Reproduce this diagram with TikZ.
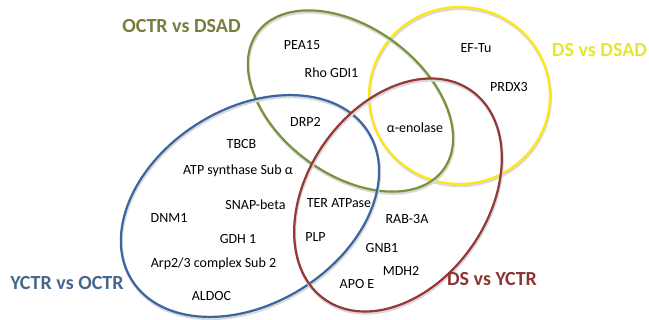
\documentclass[tikz,border=0pt]{standalone}
\usepackage{fontspec}
\setmainfont{Carlito}
\usepackage{tikz}
\usetikzlibrary{shapes.geometric}
\definecolor{octrgreen}{HTML}{77933C}
\definecolor{dsyellow}{HTML}{FFE812}
\definecolor{yctrblue}{HTML}{3C64A0}
\definecolor{dsred}{HTML}{953735}
\definecolor{octrtext}{HTML}{787C3C}
\definecolor{dstext}{HTML}{E6E630}
\definecolor{yctrtext}{HTML}{46688E}
\definecolor{redtext}{HTML}{8E3634}
\tikzset{
  setring/.style={ellipse, draw, line width=2.2pt, inner sep=0pt,
                  preaction={draw=black!15, line width=2.8pt,
                             transform canvas={shift={(0.6pt,-1.8pt)}}}}, % soft shadow
  item/.style={font=\fontsize{14}{16}\selectfont, inner sep=1pt},
  settitle/.style={font=\fontsize{20}{22}\selectfont\bfseries, inner sep=1pt},
}

\begin{document}
\begin{tikzpicture}[x=1pt, y=1pt]
  \useasboundingbox (0,0) rectangle (649,320);

  % the four comparison sets
  \node[setring, draw=dsyellow, minimum width=181pt, minimum height=177pt] (dsdsad) at (459.5,224.5) {};
  \node[setring, draw=octrgreen, minimum width=231pt, minimum height=147pt, rotate=-36.5] (octrdsad) at (350.5,219) {};
  \node[setring, draw=yctrblue, minimum width=279pt, minimum height=195pt, rotate=32] (yctroctr) at (250,114) {};
  \node[setring, draw=dsred, minimum width=255pt, minimum height=180pt, rotate=55] (dsyctr) at (398,125) {};

  % set names
  \node[settitle, text=octrtext] (toctr) at (181.5,294) {OCTR vs DSAD};
  \node[settitle, text=dstext] (tds) at (599.5,270) {DS vs DSAD};
  \node[settitle, text=yctrtext] (tyctr) at (67,36.5) {YCTR vs OCTR};
  \node[settitle, text=redtext] (tdsy) at (492,40.5) {DS vs YCTR};

  % proteins
  \node[item] (pea) at (302,275) {PEA15};
  \node[item] (rho) at (331.5,247) {Rho GDI1};
  \node[item] (eftu) at (476,272) {EF-Tu};
  \node[item] (prdx) at (509,233) {PRDX3};
  \node[item] (enol) at (415,192) {α-enolase};
  \node[item] (drp) at (305.5,198) {DRP2};
  \node[item] (tbcb) at (241.5,175.5) {TBCB};
  \node[item] (atp) at (238,149) {ATP synthase Sub α};
  \node[item] (snap) at (255.5,115) {SNAP-beta};
  \node[item] (dnm) at (169,102) {DNM1};
  \node[item] (gdh) at (238,80.5) {GDH 1};
  \node[item] (arp) at (213.5,56.5) {Arp2/3 complex Sub 2};
  \node[item] (aldoc) at (211.5,24) {ALDOC};
  \node[item] (ter) at (339,117) {TER ATPase};
  \node[item] (plp) at (315.5,82.5) {PLP};
  \node[item] (rab) at (407,101) {RAB-3A};
  \node[item] (gnb) at (382,72) {GNB1};
  \node[item] (mdh) at (401,49.5) {MDH2};
  \node[item] (apoe) at (357,36) {APO E};
\end{tikzpicture}
\end{document}
